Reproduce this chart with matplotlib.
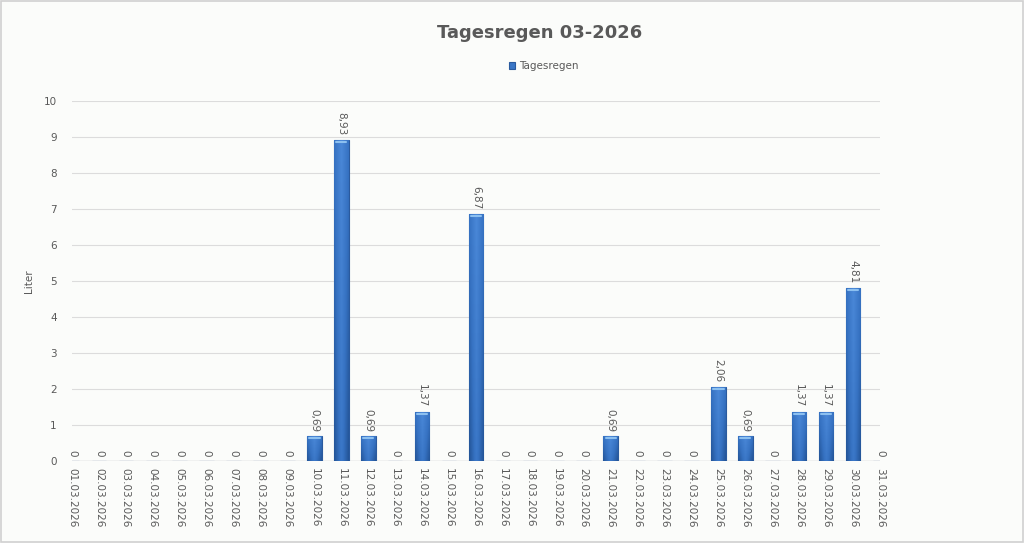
import matplotlib
matplotlib.use("Agg")
import matplotlib.pyplot as plt
import numpy as np
from matplotlib.patches import Rectangle
from matplotlib.colors import LinearSegmentedColormap

days = ["%02d.03.2026" % d for d in range(1, 32)]
rain = [0, 0, 0, 0, 0, 0, 0, 0, 0, 0.69, 8.93, 0.69, 0, 1.37, 0, 6.87,
        0, 0, 0, 0, 0.69, 0, 0, 0, 2.06, 0.69, 0, 1.37, 1.37, 4.81, 0]
yticks = list(range(0, 11))

txt = "#595959"
fig = plt.figure(figsize=(10.24, 5.43), dpi=100, facecolor="#fbfcfa")
fig.patches.append(Rectangle((0.001, 0.002), 0.998, 0.996, transform=fig.transFigure,
                             fill=False, edgecolor="#d0d0d0", lw=1.2))
ax = fig.add_axes([72 / 1024, 1 - 461 / 543, 808 / 1024, 360 / 543])
ax.set_facecolor("#fbfcfa")

x = list(range(len(days)))
w = 0.54
bars = ax.bar(x, rain, width=w, color="#3a76c6", edgecolor="#2a5a9e", lw=0.8,
              label="Tagesregen", zorder=3)

# gradient fill: dark at sides and bottom, lighter in the middle / top
cmap = LinearSegmentedColormap.from_list("g", ["#1d4a88", "#3672c2", "#4a88d8"])
gx = 1 - np.abs(np.linspace(-1, 1, 40))
gy = np.linspace(0.25, 1, 60)[:, None]
grad = 0.5 * gx[None, :] + 0.5 * gy
for b in bars:
    h = b.get_height()
    if h <= 0:
        continue
    im = ax.imshow(grad, cmap=cmap, vmin=0, vmax=1, origin="lower", aspect="auto",
                   extent=(b.get_x(), b.get_x() + w, 0, h), zorder=3.5)
    im.set_clip_path(b)
    ax.plot([b.get_x() + 0.08, b.get_x() + w - 0.08], [h - 0.06, h - 0.06],
            color="#8cc0f0", lw=1.5, zorder=4, solid_capstyle="round")

for xi, v in zip(x, rain):
    s = ("%.2f" % v).replace(".", ",") if v else "0"
    ax.text(xi, v + 0.12, s, rotation=270, ha="center", va="bottom",
            fontsize=7.5, color=txt, zorder=5)

ax.set_xlim(0, 30)
ax.set_ylim(0, 10)
ax.set_yticks(yticks)
ax.set_xticks(x)
ax.set_xticklabels(days, rotation=270, fontsize=7.5, color=txt)
ax.tick_params(axis="y", labelsize=7.5, labelcolor=txt, length=0, pad=11)
ax.tick_params(axis="x", length=0, pad=5)
ax.grid(axis="y", color="#dcdcdc", lw=0.8, zorder=0)
for sp in ax.spines.values():
    sp.set_visible(False)
ax.axhline(0, color="#d0d0d0", lw=1, zorder=2)
ax.set_ylabel("Liter", fontsize=7.5, color=txt, labelpad=7)

fig.text(0.527, 0.94, "Tagesregen 03-2026", ha="center", va="center",
         fontsize=13, fontweight="bold", color=txt)
ax.legend(loc="center", bbox_to_anchor=(0.584, 1.097), frameon=False, fontsize=7.5,
          labelcolor=txt, handlelength=0.6, handleheight=0.6, handletextpad=0.4)

fig.savefig("out.png", dpi=100, facecolor=fig.get_facecolor())
